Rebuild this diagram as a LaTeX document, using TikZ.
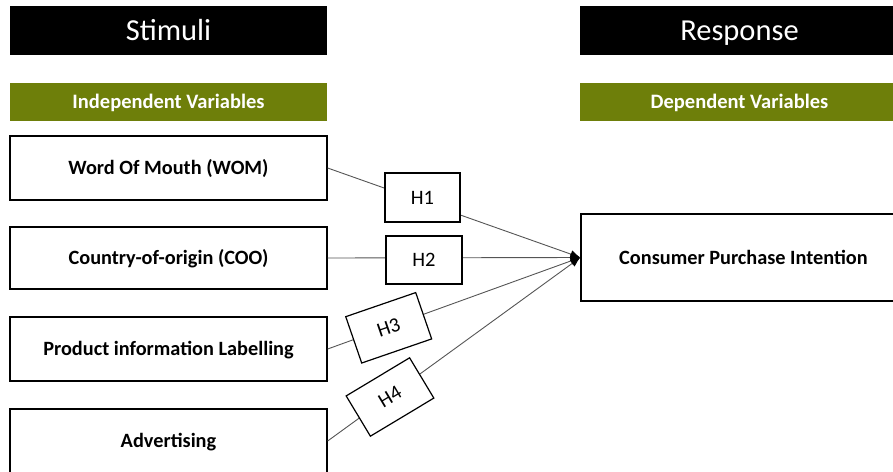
\documentclass[tikz,border=0pt]{standalone}
\usepackage{fontspec}
\setmainfont{Carlito}
\usetikzlibrary{arrows.meta}
\definecolor{olivebar}{RGB}{110,127,10}
\definecolor{linkgray}{RGB}{85,85,85}
\tikzset{
  titlebox/.style={fill=black, text=white, inner sep=0pt, text height=21pt, text depth=2pt, font=\fontsize{30.5}{34}\selectfont},
  groupbox/.style={fill=olivebar, text=white, inner sep=0pt, text height=14pt, text depth=1pt, font=\bfseries\fontsize{20.5}{24}\selectfont},
  varbox/.style={draw=black, line width=1.3pt, fill=white, inner sep=0pt, text height=14pt, text depth=1pt, font=\bfseries\fontsize{20.3}{24}\selectfont},
  hbox/.style={draw=black, line width=1.2pt, fill=white, inner sep=0pt, text height=14pt, text depth=1pt, font=\fontsize{20.5}{24}\selectfont},
  link/.style={draw=linkgray, line width=0.9pt, -{Latex[length=10pt,width=8pt,color=black]}}
}
\begin{document}
\begin{tikzpicture}[x=1pt,y=-1pt]
\useasboundingbox (0,0) rectangle (893,471);
\begin{scope}
\clip (0,0) rectangle (893,471);
% headers
\node[titlebox, minimum width=317pt, minimum height=49pt] (stim) at (168.5,30.5) {Stimuli};
\node[titlebox, minimum width=319pt, minimum height=49pt] (resp) at (739.5,30.5) {Response};
\node[groupbox, minimum width=317pt, minimum height=38pt] (indep) at (168.5,102) {Independent Variables};
\node[groupbox, minimum width=319pt, minimum height=38pt] (dep) at (739.5,102) {Dependent Variables};
% variables
\node[varbox, minimum width=317pt, minimum height=64pt] (wom) at (168.5,168) {Word Of Mouth (WOM)};
\node[varbox, minimum width=317pt, minimum height=62pt] (coo) at (168.5,258) {Country-of-origin (COO)};
\node[varbox, minimum width=317pt, minimum height=64pt] (pil) at (168.5,349) {Product information Labelling};
\node[varbox, minimum width=317pt, minimum height=64pt] (adv) at (168.5,441) {Advertising};
\node[varbox, minimum width=325pt, minimum height=87pt] (cpi) at (743.5,257.5) {Consumer Purchase Intention};
% connectors
\draw[link] (wom.east) -- (cpi.west);
\draw[link] (coo.east) -- (cpi.west);
\draw[link] (pil.east) -- (cpi.west);
\draw[link] (adv.east) -- (cpi.west);
% hypotheses
\node[hbox, minimum width=75pt, minimum height=49pt] (h1) at (422.5,197.5) {H1};
\node[hbox, minimum width=76pt, minimum height=48pt] (h2) at (424,260) {H2};
\node[hbox, minimum width=74pt, minimum height=49pt, rotate=19] (h3) at (388.7,327.8) {H3};
\node[hbox, minimum width=74pt, minimum height=47pt, rotate=31] (h4) at (390,397) {H4};
\end{scope}
\end{tikzpicture}
\end{document}
